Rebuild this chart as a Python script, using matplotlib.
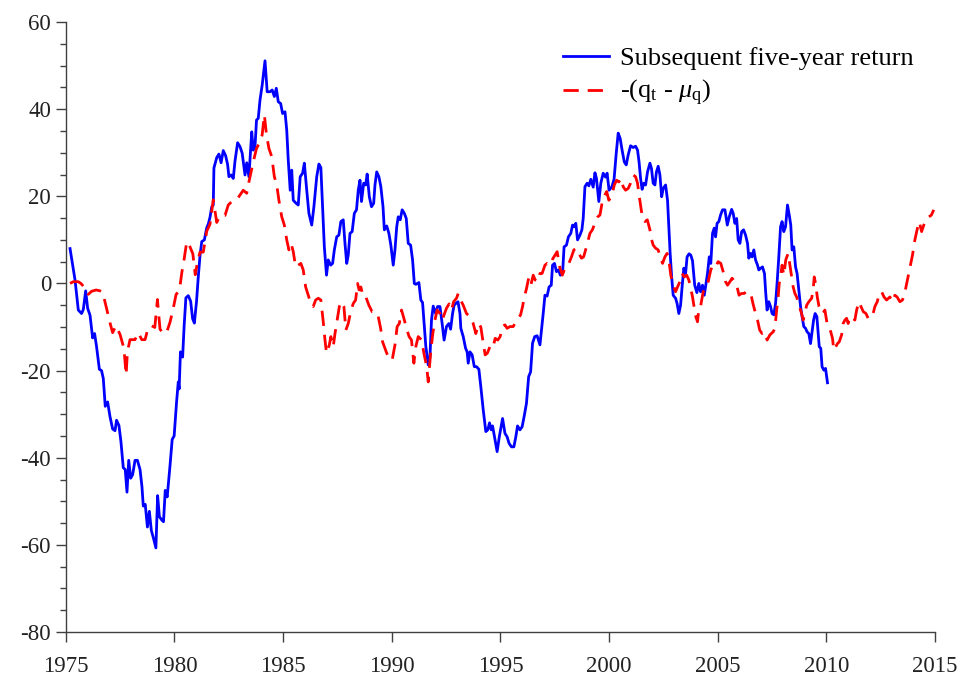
import numpy as np
import matplotlib
matplotlib.use('Agg')
import matplotlib.pyplot as plt

plt.rcParams['font.family'] = ['Liberation Serif', 'DejaVu Serif']
plt.rcParams['mathtext.fontset'] = 'custom'
plt.rcParams['mathtext.rm'] = 'Liberation Serif'
plt.rcParams['mathtext.it'] = 'Liberation Serif:italic'
plt.rcParams['axes.unicode_minus'] = False
plt.rcParams['font.size'] = 16.5

# subsequent five-year return (blue)
ret_year = [
    1975.20, 1975.43, 1975.58, 1975.73, 1975.81, 1975.92, 1976.01, 1976.12, 1976.24, 1976.33,
    1976.42, 1976.55, 1976.65, 1976.73, 1976.82, 1976.93, 1977.04, 1977.16, 1977.27, 1977.34,
    1977.45, 1977.54, 1977.65, 1977.74, 1977.82, 1977.90, 1977.99, 1978.08, 1978.19, 1978.30,
    1978.42, 1978.51, 1978.57, 1978.66, 1978.76, 1978.85, 1978.94, 1979.03, 1979.15, 1979.23,
    1979.31, 1979.42, 1979.50, 1979.58, 1979.67, 1979.80, 1979.90, 1979.99, 1980.10, 1980.18,
    1980.22, 1980.28, 1980.38, 1980.45, 1980.53, 1980.64, 1980.75, 1980.84, 1980.92, 1981.02,
    1981.10, 1981.18, 1981.26, 1981.38, 1981.49, 1981.56, 1981.64, 1981.72, 1981.79, 1981.82,
    1981.95, 1982.05, 1982.15, 1982.25, 1982.36, 1982.45, 1982.51, 1982.61, 1982.71, 1982.79,
    1982.91, 1983.02, 1983.12, 1983.25, 1983.33, 1983.43, 1983.56, 1983.63, 1983.71, 1983.78,
    1983.86, 1983.94, 1984.04, 1984.17, 1984.27, 1984.40, 1984.50, 1984.60, 1984.69, 1984.78,
    1984.89, 1984.98, 1985.09, 1985.17, 1985.24, 1985.33, 1985.40, 1985.47, 1985.58, 1985.70,
    1985.79, 1985.90, 1985.98, 1986.09, 1986.19, 1986.32, 1986.42, 1986.55, 1986.65, 1986.74,
    1986.82, 1986.90, 1987.00, 1987.08, 1987.19, 1987.28, 1987.36, 1987.47, 1987.57, 1987.66,
    1987.77, 1987.85, 1987.93, 1988.00, 1988.08, 1988.18, 1988.28, 1988.38, 1988.46, 1988.54,
    1988.61, 1988.71, 1988.80, 1988.87, 1988.97, 1989.07, 1989.17, 1989.23, 1989.31, 1989.41,
    1989.50, 1989.60, 1989.66, 1989.77, 1989.87, 1989.96, 1990.07, 1990.15, 1990.23, 1990.30,
    1990.39, 1990.48, 1990.58, 1990.67, 1990.76, 1990.87, 1990.96, 1991.04, 1991.11, 1991.25,
    1991.34, 1991.42, 1991.49, 1991.57, 1991.68, 1991.76, 1991.83, 1991.91, 1992.02, 1992.11,
    1992.22, 1992.32, 1992.41, 1992.52, 1992.63, 1992.71, 1992.80, 1992.87, 1992.95, 1993.05,
    1993.14, 1993.18, 1993.29, 1993.40, 1993.47, 1993.52, 1993.60, 1993.70, 1993.80, 1993.90,
    1994.01, 1994.10, 1994.21, 1994.33, 1994.42, 1994.50, 1994.58, 1994.64, 1994.73, 1994.85,
    1994.95, 1995.10, 1995.21, 1995.31, 1995.40, 1995.51, 1995.62, 1995.71, 1995.79, 1995.90,
    1996.00, 1996.09, 1996.20, 1996.30, 1996.39, 1996.48, 1996.58, 1996.69, 1996.82, 1996.91,
    1996.97, 1997.05, 1997.15, 1997.24, 1997.34, 1997.40, 1997.49, 1997.58, 1997.67, 1997.76,
    1997.86, 1997.93, 1998.04, 1998.13, 1998.24, 1998.32, 1998.39, 1998.47, 1998.55, 1998.66,
    1998.75, 1998.81, 1998.89, 1998.99, 1999.07, 1999.16, 1999.27, 1999.35, 1999.42, 1999.53,
    1999.62, 1999.73, 1999.84, 1999.91, 2000.00, 2000.13, 2000.23, 2000.33, 2000.42, 2000.51,
    2000.60, 2000.70, 2000.79, 2000.88, 2000.99, 2001.11, 2001.22, 2001.31, 2001.38, 2001.45,
    2001.52, 2001.60, 2001.68, 2001.77, 2001.88, 2001.95, 2002.03, 2002.11, 2002.18, 2002.26,
    2002.34, 2002.42, 2002.49, 2002.60, 2002.69, 2002.75, 2002.81, 2002.88, 2002.95, 2003.06,
    2003.13, 2003.21, 2003.29, 2003.36, 2003.44, 2003.52, 2003.59, 2003.68, 2003.76, 2003.84,
    2003.94, 2004.04, 2004.13, 2004.21, 2004.30, 2004.38, 2004.45, 2004.53, 2004.61, 2004.68,
    2004.76, 2004.84, 2004.90, 2004.97, 2005.05, 2005.13, 2005.22, 2005.33, 2005.44, 2005.53,
    2005.64, 2005.71, 2005.79, 2005.87, 2005.94, 2006.02, 2006.10, 2006.19, 2006.28, 2006.37,
    2006.43, 2006.51, 2006.58, 2006.66, 2006.74, 2006.83, 2006.89, 2006.98, 2007.06, 2007.15,
    2007.21, 2007.27, 2007.35, 2007.43, 2007.50, 2007.58, 2007.66, 2007.73, 2007.81, 2007.89,
    2007.96, 2008.04, 2008.12, 2008.21, 2008.29, 2008.36, 2008.42, 2008.50, 2008.58, 2008.65,
    2008.73, 2008.81, 2008.88, 2008.96, 2009.04, 2009.11, 2009.19, 2009.27, 2009.33, 2009.41,
    2009.48, 2009.56, 2009.62, 2009.67, 2009.74, 2009.80, 2009.88, 2009.96, 2010.05,
]
ret_val = [
    8.0, 0.8, -6.1, -6.9, -6.0, -1.7, -5.7, -7.3, -12.5, -11.5,
    -14.5, -19.7, -20.0, -21.8, -28.2, -27.2, -30.6, -33.4, -33.8, -31.4,
    -32.6, -36.2, -42.3, -42.7, -47.9, -40.6, -44.7, -43.9, -40.6, -40.6,
    -42.7, -46.7, -51.1, -50.7, -55.9, -52.3, -56.7, -58.3, -60.7, -48.7,
    -53.5, -54.3, -54.7, -47.5, -49.0, -41.8, -35.8, -35.0, -27.3, -22.6,
    -24.2, -15.7, -16.9, -9.7, -3.3, -2.8, -4.1, -8.1, -9.1, -4.1,
    1.5, 6.4, 9.6, 10.0, 12.8, 13.6, 15.2, 17.6, 18.0, 26.5,
    28.9, 29.7, 27.7, 30.5, 29.3, 27.3, 24.5, 24.9, 24.1, 28.1,
    32.3, 31.4, 29.9, 24.9, 27.7, 24.5, 34.8, 30.6, 31.4, 37.5,
    37.9, 42.1, 45.5, 51.1, 44.0, 44.0, 44.4, 42.9, 44.8, 41.7,
    41.3, 39.0, 39.4, 35.2, 28.3, 21.4, 26.0, 19.1, 18.5, 18.0,
    24.5, 25.3, 27.6, 21.4, 16.1, 13.4, 17.6, 24.5, 27.4, 26.6,
    17.6, 8.4, 1.9, 5.4, 4.2, 4.6, 7.7, 10.7, 11.1, 14.2,
    14.6, 9.2, 4.6, 6.5, 11.5, 11.9, 16.1, 16.9, 21.4, 23.7,
    18.8, 23.0, 22.6, 25.1, 19.9, 17.6, 18.4, 22.6, 25.6, 24.5,
    22.2, 17.6, 12.3, 13.2, 11.5, 8.8, 4.2, 7.7, 13.0, 15.3,
    14.6, 16.9, 16.1, 14.9, 9.2, 8.8, 5.4, 0.0, -0.2, 0.2,
    -3.8, -4.4, -9.2, -14.5, -18.7, -16.8, -8.4, -5.2, -6.9, -5.3,
    -5.3, -9.2, -13.0, -9.9, -9.2, -10.5, -6.9, -5.0, -4.6, -4.2,
    -6.9, -10.3, -12.2, -14.9, -15.7, -18.3, -15.7, -16.4, -19.1, -19.1,
    -19.7, -23.7, -29.0, -34.0, -33.6, -32.0, -33.6, -32.7, -35.2, -38.6,
    -35.2, -31.0, -34.4, -35.2, -36.7, -37.5, -37.5, -35.2, -32.7, -33.6,
    -32.9, -30.6, -27.5, -21.4, -20.3, -13.7, -12.2, -12.0, -14.1, -9.9,
    -6.9, -2.7, -2.9, -0.8, -0.4, 4.2, 4.6, 2.7, 3.1, 1.9,
    2.3, 8.4, 8.8, 10.7, 11.5, 13.4, 13.0, 13.8, 10.0, 11.1,
    12.3, 14.9, 22.2, 23.0, 22.4, 23.9, 22.1, 25.4, 24.1, 18.8,
    23.0, 25.3, 24.4, 25.3, 21.4, 22.2, 23.9, 29.9, 34.5, 33.3,
    30.6, 27.9, 27.2, 29.5, 31.6, 31.2, 31.5, 30.6, 27.9, 24.1,
    21.6, 23.0, 22.6, 25.6, 27.6, 26.4, 23.0, 22.6, 25.6, 26.9,
    24.9, 19.9, 21.8, 22.6, 19.1, 13.0, 6.9, 1.5, -2.7, -3.4,
    -4.6, -6.9, -5.0, -0.8, 3.5, 2.3, 6.1, 6.8, 6.5, 5.2,
    -0.4, -2.1, 0.0, -1.9, -0.4, -2.7, -0.4, 2.3, 6.1, 4.6,
    11.5, 12.7, 10.7, 13.8, 14.2, 15.7, 16.9, 16.9, 13.4, 15.3,
    17.0, 16.1, 13.8, 14.9, 10.0, 9.2, 11.9, 12.3, 11.1, 9.2,
    5.8, 6.9, 6.1, 7.7, 5.4, 4.2, 3.1, 3.5, 3.8, 2.3,
    -2.3, -6.1, -4.2, -5.3, -6.9, -7.2, -4.6, 0.0, 6.1, 13.0,
    14.2, 11.9, 13.0, 18.0, 15.7, 13.4, 7.7, 8.4, 3.8, 2.3,
    -1.5, -5.3, -7.6, -9.9, -10.3, -11.1, -11.5, -13.8, -11.5, -8.4,
    -6.9, -7.6, -11.5, -14.5, -14.9, -19.1, -19.9, -19.5, -22.8,
]

# -(q_t - mu_q) (red dashed)
q_year = [
    1975.20, 1975.35, 1975.58, 1975.70, 1975.93, 1976.04, 1976.19, 1976.40, 1976.58, 1976.70,
    1976.88, 1977.01, 1977.16, 1977.31, 1977.50, 1977.68, 1977.78, 1977.84, 1977.96, 1978.19,
    1978.34, 1978.50, 1978.65, 1978.80, 1978.95, 1979.10, 1979.22, 1979.34, 1979.49, 1979.64,
    1979.80, 1979.95, 1980.08, 1980.23, 1980.34, 1980.45, 1980.57, 1980.72, 1980.85, 1980.96,
    1981.06, 1981.18, 1981.33, 1981.49, 1981.64, 1981.79, 1981.95, 1982.10, 1982.33, 1982.48,
    1982.64, 1982.87, 1983.02, 1983.17, 1983.33, 1983.43, 1983.63, 1983.78, 1983.94, 1984.04,
    1984.14, 1984.24, 1984.35, 1984.48, 1984.60, 1984.71, 1984.81, 1984.94, 1985.06, 1985.17,
    1985.27, 1985.37, 1985.47, 1985.58, 1985.70, 1985.82, 1985.93, 1986.04, 1986.16, 1986.28,
    1986.39, 1986.50, 1986.62, 1986.74, 1986.85, 1986.93, 1987.00, 1987.13, 1987.20, 1987.31,
    1987.39, 1987.49, 1987.59, 1987.70, 1987.80, 1987.89, 1988.00, 1988.11, 1988.23, 1988.34,
    1988.43, 1988.50, 1988.58, 1988.69, 1988.81, 1988.95, 1989.10, 1989.26, 1989.38, 1989.49,
    1989.58, 1989.77, 1989.89, 1990.02, 1990.15, 1990.25, 1990.35, 1990.45, 1990.56, 1990.68,
    1990.80, 1990.91, 1991.02, 1991.11, 1991.22, 1991.38, 1991.48, 1991.61, 1991.68, 1991.79,
    1991.89, 1991.99, 1992.09, 1992.22, 1992.32, 1992.41, 1992.52, 1992.64, 1992.75, 1992.85,
    1992.98, 1993.06, 1993.17, 1993.29, 1993.44, 1993.60, 1993.75, 1993.87, 1994.00, 1994.10,
    1994.19, 1994.30, 1994.40, 1994.52, 1994.65, 1994.76, 1994.88, 1994.99, 1995.09, 1995.21,
    1995.31, 1995.44, 1995.59, 1995.71, 1995.82, 1995.93, 1996.02, 1996.09, 1996.20, 1996.30,
    1996.40, 1996.51, 1996.60, 1996.71, 1996.82, 1996.92, 1997.05, 1997.15, 1997.28, 1997.38,
    1997.51, 1997.61, 1997.74, 1997.85, 1997.94, 1998.04, 1998.15, 1998.27, 1998.38, 1998.50,
    1998.61, 1998.73, 1998.83, 1998.96, 1999.08, 1999.12, 1999.23, 1999.35, 1999.48, 1999.58,
    1999.69, 1999.81, 1999.89, 1999.99, 2000.12, 2000.24, 2000.35, 2000.45, 2000.54, 2000.65,
    2000.76, 2000.88, 2000.99, 2001.11, 2001.22, 2001.31, 2001.38, 2001.46, 2001.54, 2001.65,
    2001.76, 2001.88, 2001.96, 2002.03, 2002.14, 2002.26, 2002.37, 2002.46, 2002.57, 2002.67,
    2002.75, 2002.84, 2002.95, 2003.06, 2003.15, 2003.26, 2003.36, 2003.46, 2003.57, 2003.67,
    2003.76, 2003.84, 2003.91, 2003.99, 2004.07, 2004.14, 2004.22, 2004.33, 2004.44, 2004.56,
    2004.68, 2004.79, 2004.90, 2005.02, 2005.14, 2005.25, 2005.36, 2005.45, 2005.56, 2005.66,
    2005.79, 2005.89, 2005.98, 2006.09, 2006.21, 2006.32, 2006.43, 2006.52, 2006.62, 2006.74,
    2006.83, 2006.93, 2007.04, 2007.17, 2007.27, 2007.40, 2007.55, 2007.63, 2007.71, 2007.78,
    2007.83, 2007.89, 2007.96, 2008.04, 2008.13, 2008.24, 2008.31, 2008.39, 2008.47, 2008.55,
    2008.63, 2008.75, 2008.86, 2008.93, 2009.01, 2009.09, 2009.19, 2009.32, 2009.39, 2009.44,
    2009.50, 2009.58, 2009.66, 2009.73, 2009.83, 2009.93, 2010.03, 2010.12, 2010.20, 2010.28,
    2010.34, 2010.43, 2010.51, 2010.59, 2010.70, 2010.77, 2010.85, 2010.93, 2011.00, 2011.08,
    2011.21, 2011.31, 2011.39, 2011.50, 2011.59, 2011.70, 2011.82, 2011.92, 2012.05, 2012.15,
    2012.23, 2012.34, 2012.43, 2012.54, 2012.65, 2012.77, 2012.92, 2013.04, 2013.15, 2013.25,
    2013.38, 2013.50, 2013.60, 2013.71, 2013.84, 2013.96, 2014.07, 2014.17, 2014.27, 2014.38,
    2014.48, 2014.60, 2014.72, 2014.83, 2014.94,
]
q_val = [
    0.0, 0.4, 0.4, 0.0, -1.3, -2.5, -1.8, -1.5, -1.7, -2.0,
    -5.7, -8.5, -11.3, -9.7, -11.7, -14.9, -21.0, -15.7, -12.9, -12.9,
    -11.3, -12.9, -12.9, -10.1, -9.7, -10.1, -3.7, -10.5, -11.5, -11.3,
    -8.9, -5.7, -2.5, -1.7, 2.4, 5.6, 9.6, 8.4, 6.8, 2.0,
    4.8, 7.2, 7.2, 12.0, 13.6, 19.2, 14.0, 15.6, 15.6, 18.0,
    18.8, 19.2, 20.3, 21.4, 20.7, 23.3, 27.9, 31.0, 32.5, 34.1,
    38.7, 34.1, 31.0, 29.1, 24.5, 22.6, 19.1, 15.3, 13.4, 10.0,
    7.7, 9.2, 7.3, 3.8, 4.2, 4.6, 3.1, -0.8, -2.7, -4.6,
    -5.3, -3.8, -3.4, -3.8, -8.8, -13.0, -16.0, -14.1, -12.2, -14.5,
    -11.5, -8.4, -5.3, -4.2, -5.3, -10.7, -9.2, -6.5, -4.6, -3.8,
    0.0, -1.5, -0.8, -3.1, -3.1, -5.0, -6.5, -6.5, -7.6, -10.3,
    -13.4, -16.0, -17.2, -17.6, -14.1, -9.9, -9.2, -6.1, -8.0, -10.3,
    -12.2, -13.0, -18.3, -14.5, -12.2, -13.0, -16.0, -19.1, -22.6, -16.0,
    -11.5, -8.4, -6.1, -6.9, -8.4, -7.2, -5.7, -4.7, -6.1, -4.2,
    -3.4, -2.3, -3.8, -5.0, -6.9, -7.6, -9.2, -11.5, -9.2, -10.0,
    -13.0, -16.4, -16.0, -14.5, -14.9, -12.6, -13.0, -12.2, -9.9, -9.5,
    -10.3, -9.9, -9.9, -8.8, -8.0, -7.2, -5.3, -3.4, -1.2, 1.2,
    -0.4, 1.9, 0.8, 0.4, 2.3, 2.3, 4.2, 4.6, 4.2, 5.4,
    6.5, 7.3, 3.5, 1.9, 3.1, 3.5, 4.6, 6.1, 7.7, 8.1,
    6.9, 5.8, 6.1, 8.4, 10.7, 11.5, 12.3, 13.8, 15.3, 15.7,
    18.8, 20.3, 21.1, 19.1, 19.9, 22.6, 23.7, 23.3, 24.1, 22.2,
    21.4, 21.8, 23.0, 24.9, 24.5, 23.0, 20.3, 17.6, 14.9, 14.2,
    14.6, 12.3, 10.0, 8.8, 8.1, 7.7, 5.8, 4.6, 6.1, 6.9,
    5.4, 1.9, -0.4, -1.9, -0.8, 0.4, 2.3, 1.5, 1.9, 0.8,
    -1.2, -3.1, -5.3, -7.6, -8.8, -5.3, -5.0, -1.9, -1.2, 0.4,
    3.1, 4.2, 3.8, 5.0, 4.6, 2.7, 0.4, -0.4, 0.4, 1.2,
    0.4, -0.8, -2.7, -2.3, -2.3, -1.9, -1.9, -2.3, -4.6, -6.9,
    -8.4, -10.7, -11.5, -11.1, -13.0, -11.8, -11.1, -10.3, -6.1, -3.1,
    0.0, 1.5, 4.2, 1.9, 5.4, 6.9, 4.6, 1.9, -0.8, -2.3,
    -3.1, -5.3, -6.9, -8.4, -6.9, -5.0, -4.2, -3.4, -1.5, 1.5,
    0.0, -3.1, -5.3, -6.1, -6.9, -6.1, -9.2, -10.0, -11.1, -12.6,
    -15.3, -14.5, -13.8, -13.4, -11.8, -9.2, -8.4, -8.0, -9.2, -7.6,
    -8.0, -8.4, -6.1, -4.2, -5.3, -6.5, -6.9, -8.0, -8.0, -6.9,
    -5.3, -4.2, -2.3, -1.9, -3.1, -3.8, -3.1, -4.2, -2.7, -3.1,
    -4.2, -3.8, -2.3, 0.4, 3.5, 6.5, 10.0, 12.3, 14.2, 11.9,
    13.4, 14.9, 15.3, 15.7, 16.9,
]

xticks = [1975, 1980, 1985, 1990, 1995, 2000, 2005, 2010, 2015]
yticks = [-80, -60, -40, -20, 0, 20, 40, 60]

fig = plt.figure(figsize=(9.66, 6.82), dpi=100)
ax = fig.add_axes([0.068, 0.0733, 0.900, 0.8944])

ax.plot(ret_year, ret_val, color='#0000ff', lw=2.0, label='Subsequent five-year return')
ax.plot(q_year, q_val, color='#ff0000', lw=2.0, dashes=(5.5, 3.2),
        label=r'-(q$_{\rm t}$ - $\mu_{\rm q}$)')

ax.set_xlim(1975, 2015)
ax.set_ylim(-80, 60)
ax.set_xticks(xticks)
ax.set_yticks(yticks)
ax.set_yticks(np.arange(-80, 61, 5), minor=True)

for s in ['top', 'right']:
    ax.spines[s].set_visible(False)
for s in ['left', 'bottom']:
    ax.spines[s].set_color('#404040')
    ax.spines[s].set_linewidth(1.0)
ax.tick_params(axis='both', which='major', direction='out', length=7, width=1.0,
               color='#404040', labelcolor='#222222', labelsize=16.5)
ax.tick_params(axis='y', which='minor', direction='out', length=4, width=1.0, color='#404040')
ax.tick_params(axis='x', pad=10)

leg = ax.legend(loc='upper right', bbox_to_anchor=(0.993, 0.986), frameon=False,
                handlelength=1.75, handletextpad=0.4, labelspacing=0.32,
                fontsize=19, borderaxespad=0.2)

fig.savefig('out.png', dpi=100)
